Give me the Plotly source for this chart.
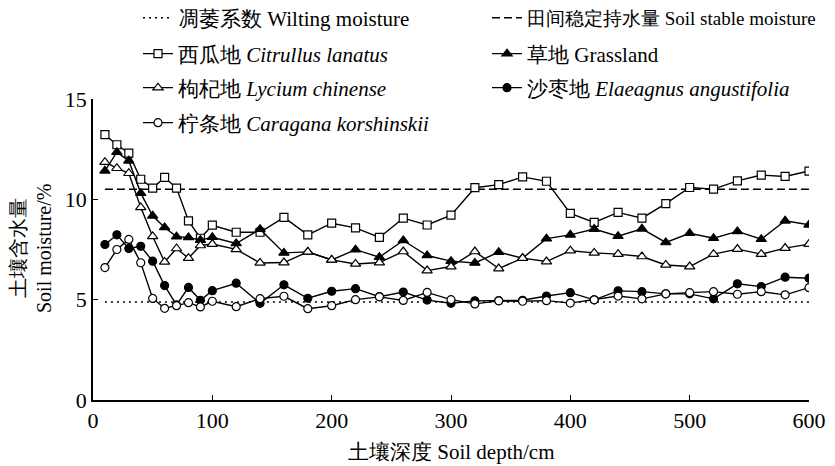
import plotly.graph_objects as go

# Soil depth (cm)
depth = [10, 20, 30, 40, 50, 60, 70, 80, 90, 100,
         120, 140, 160, 180, 200, 220, 240, 260, 280, 300,
         320, 340, 360, 380, 400, 420, 440, 460, 480, 500,
         520, 540, 560, 580, 600]

citrullus = [13.22, 12.72, 12.30, 11.00, 10.56, 11.09, 10.56, 8.93, 8.06, 8.71,
             8.36, 8.36, 9.10, 8.23, 8.81, 8.58, 8.10, 9.06, 8.72, 9.21,
             10.58, 10.73, 11.12, 10.90, 9.30, 8.85, 9.35, 9.06, 9.79, 10.59,
             10.51, 10.92, 11.21, 11.14, 11.41]

grassland = [11.42, 12.35, 11.92, 10.31, 9.18, 8.60, 8.14, 8.10, 7.97, 8.11,
             7.80, 8.51, 7.33, 7.38, 6.98, 7.49, 7.12, 7.95, 7.20, 6.92,
             6.83, 7.37, 7.07, 8.04, 8.23, 8.52, 8.16, 8.53, 7.85, 8.31,
             8.06, 8.40, 8.01, 8.93, 8.73]

lycium = [11.85, 11.55, 11.30, 9.60, 8.15, 6.88, 7.55, 7.07, 7.70, 7.77,
          7.51, 6.83, 6.85, 7.38, 6.98, 6.78, 6.85, 7.40, 6.45, 6.65,
          7.40, 6.55, 7.07, 6.90, 7.44, 7.33, 7.27, 7.15, 6.73, 6.65,
          7.27, 7.52, 7.27, 7.57, 7.77]

elaeagnus = [7.75, 8.23, 7.55, 7.66, 6.92, 5.70, 4.74, 5.61, 4.97, 5.45,
             5.82, 4.82, 5.74, 5.07, 5.42, 5.55, 5.15, 5.38, 4.98, 4.82,
             4.94, 4.95, 4.97, 5.18, 5.35, 4.99, 5.44, 5.40, 5.29, 5.29,
             5.04, 5.79, 5.65, 6.12, 6.07]

caragana = [6.60, 7.50, 8.00, 6.84, 5.06, 4.57, 4.70, 4.85, 4.64, 4.92,
            4.65, 5.05, 5.17, 4.55, 4.70, 5.00, 5.14, 4.96, 5.36, 5.00,
            4.79, 4.94, 4.92, 4.95, 4.83, 4.99, 5.18, 5.04, 5.29, 5.35,
            5.40, 5.27, 5.40, 5.24, 5.60]

ref_depth = [10, 600]
wilting = [4.88, 4.88]
stable = [10.5, 10.5]

x_ticks = [0, 100, 200, 300, 400, 500, 600]
y_ticks = [0, 5, 10, 15]

FONT = "Liberation Serif"
# page body has an 8px default margin; figure is sized to fit the window
OFF = 8
W, H = 835 - OFF, 466 - OFF

fig = go.Figure()

fig.add_trace(go.Scatter(x=ref_depth, y=wilting, mode="lines",
                         name="凋萎系数 Wilting moisture",
                         line=dict(color="black", width=1.5, dash="2px,4px"),
                         legend="legend8"))
fig.add_trace(go.Scatter(x=ref_depth, y=stable, mode="lines",
                         name="田间稳定持水量 Soil stable moisture",
                         line=dict(color="black", width=1.5, dash="8px,4px"),
                         legend="legend2"))

series = [
    ("西瓜地 <i>Citrullus lanatus</i>", citrullus, "square", "white", 8, "legend3"),
    ("草地 Grassland", grassland, "triangle-up", "black", 9, "legend4"),
    ("枸杞地 <i>Lycium chinense</i>", lycium, "triangle-up", "white", 9, "legend5"),
    ("沙枣地 <i>Elaeagnus angustifolia</i>", elaeagnus, "circle", "black", 8, "legend6"),
    ("柠条地 <i>Caragana korshinskii</i>", caragana, "circle", "white", 8, "legend7"),
]
for name, vals, sym, fill, size, lg in series:
    fig.add_trace(go.Scatter(
        x=depth, y=vals, mode="lines+markers", name=name,
        line=dict(color="black", width=1.4),
        marker=dict(symbol=sym, size=size, color=fill,
                    line=dict(color="black", width=1.2)),
        legend=lg))

col1_x = (138 - OFF) / W
col2_x = (487 - OFF) / W
rows = [18 - OFF, 54 - OFF, 88 - OFF, 123 - OFF]

def leg(x, row, size=21):
    return dict(x=x, y=1 - row / H, xref="container", yref="container",
                xanchor="left", yanchor="middle", bgcolor="rgba(0,0,0,0)",
                borderwidth=0, font=dict(family=FONT, size=size, color="black"))

L, T = 93 - OFF, 99 - OFF
R_EDGE, B_EDGE = 809 - OFF, 400 - OFF
PW, PH = R_EDGE - L, B_EDGE - T

fig.update_layout(
    width=W, height=H,
    paper_bgcolor="white", plot_bgcolor="white",
    margin=dict(l=L, r=W - R_EDGE, t=T, b=H - B_EDGE, autoexpand=False),
    font=dict(family=FONT, size=20, color="black"),
    showlegend=True,
    legend=dict(visible=False),
    legend8=leg(col1_x, rows[0]),
    legend2=leg(col2_x, rows[0], size=19),
    legend3=leg(col1_x, rows[1]),
    legend4=leg(col2_x, rows[1]),
    legend5=leg(col1_x, rows[2]),
    legend6=leg(col2_x, rows[2]),
    legend7=leg(col1_x, rows[3]),
    annotations=[
        dict(text="土壤含水量<br>Soil moisture/%", textangle=-90,
             xref="paper", yref="paper",
             x=(31 - 93) / PW, y=(400 - 248) / PH,
             xanchor="center", yanchor="middle", showarrow=False,
             font=dict(family=FONT, size=20, color="black")),
        dict(text="土壤深度 Soil depth/cm",
             xref="paper", yref="paper",
             x=0.5, y=(400 - 452) / PH,
             xanchor="center", yanchor="middle", showarrow=False,
             font=dict(family=FONT, size=21, color="black")),
    ],
)

fig.update_xaxes(range=[0, 600], tickvals=x_ticks, ticks="inside", ticklen=5,
                 tickwidth=1.2, tickcolor="black", showline=True, linecolor="black",
                 linewidth=1.5, showgrid=False, zeroline=False, automargin=False,
                 tickfont=dict(family=FONT, size=22))
fig.update_yaxes(range=[0, 15], tickvals=y_ticks, ticks="inside", ticklen=5,
                 tickwidth=1.2, tickcolor="black", showline=True, linecolor="black",
                 linewidth=1.5, showgrid=False, zeroline=False, automargin=False,
                 tickfont=dict(family=FONT, size=22))

fig.write_html("out.html")
